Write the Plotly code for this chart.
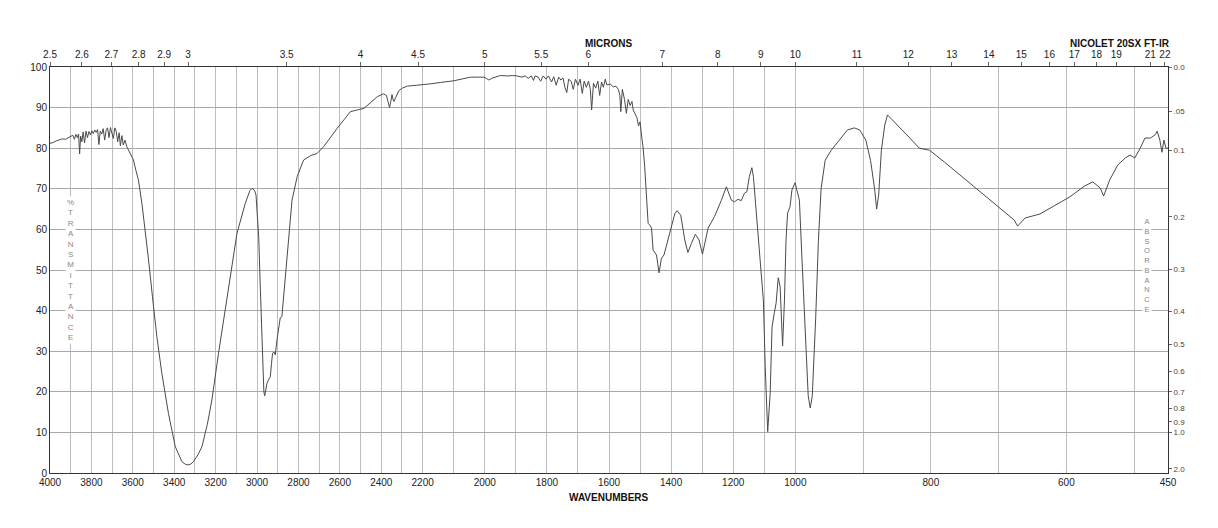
import numpy as np
import plotly.graph_objects as go

# ---------------- data ----------------
wavenumbers = [
    4000, 3985, 3970, 3955, 3940, 3925, 3910, 3898, 3890, 3882, 3875, 3868, 3862, 3857, 3852,
    3846, 3840, 3833, 3826, 3819, 3812, 3805, 3798, 3791, 3784, 3777, 3770, 3764, 3757, 3750,
    3743, 3736, 3729, 3722, 3715, 3708, 3701, 3694, 3687, 3680, 3673, 3666, 3660, 3653, 3646,
    3638, 3629, 3615, 3597, 3585, 3573, 3556, 3540, 3524, 3505, 3484, 3460, 3428, 3395, 3363,
    3345, 3334, 3320, 3307, 3285, 3266, 3240, 3218, 3186, 3145, 3097, 3057, 3035, 3024, 3012,
    3005, 2998, 2992, 2985, 2979, 2973, 2967, 2963, 2958, 2952, 2944, 2936, 2930, 2925, 2918,
    2912, 2903, 2896, 2888, 2880, 2872, 2863, 2847, 2831, 2806, 2775, 2740, 2710, 2678, 2645,
    2613, 2580, 2549, 2510, 2484, 2450, 2419, 2390, 2375, 2366, 2360, 2354, 2348, 2343, 2339,
    2330, 2315, 2298, 2274, 2230, 2206, 2170, 2142, 2100, 2070, 2046, 2020, 2003, 1995, 1987,
    1978, 1965, 1950, 1925, 1910, 1896, 1880, 1870, 1860, 1850, 1843, 1838, 1828, 1820, 1812,
    1803, 1795, 1785, 1778, 1770, 1762, 1755, 1748, 1742, 1736, 1730, 1722, 1715, 1708, 1700,
    1693, 1686, 1680, 1673, 1666, 1660, 1656, 1650, 1643, 1636, 1630, 1624, 1618, 1612, 1607,
    1596, 1586, 1578, 1570, 1565, 1562, 1557, 1550, 1544, 1538, 1532, 1526, 1522, 1515, 1510,
    1505, 1500, 1495, 1490, 1485, 1479, 1474, 1468, 1463, 1458, 1447, 1439, 1431, 1423, 1404,
    1388, 1381, 1369, 1356, 1346, 1335, 1322, 1310, 1299, 1281, 1260, 1238, 1222, 1206, 1196,
    1185, 1174, 1164, 1156, 1148, 1140, 1135, 1126, 1110, 1103, 1097, 1089, 1081, 1075, 1068,
    1062, 1055, 1049, 1041, 1035, 1030, 1025, 1017, 1011, 1001, 994, 990, 985, 981, 978,
    975, 970, 966, 962, 956, 947, 935, 923, 913, 905, 896, 889, 883, 880, 877,
    873, 868, 864, 857, 846, 831, 817, 802, 780, 757, 735, 713, 691, 677, 672,
    661, 639, 617, 595, 573, 561, 550, 545, 536, 524, 513, 506, 499, 491, 484,
    476, 469, 466, 462, 459, 456, 453, 450,
]
transmittance = [
    81.2, 81.4, 81.8, 82.0, 82.3, 82.2, 82.7, 82.9, 83.2, 82.2, 83.4, 82.6, 83.5, 78.6, 83.0,
    81.6, 84.0, 81.3, 84.2, 82.6, 84.1, 83.3, 84.3, 83.6, 84.5, 83.9, 84.6, 80.9, 84.2, 83.5,
    84.8, 82.0, 84.4, 85.0, 82.6, 85.1, 84.0, 82.4, 85.0, 84.1, 81.6, 83.8, 80.6, 83.1, 80.8,
    82.0, 80.4, 78.8, 77.1, 74.5, 72.2, 66.4, 59.9, 52.5, 43.4, 33.6, 24.6, 14.7, 6.5, 2.8,
    2.1, 2.0, 2.2, 2.8, 4.5, 6.5, 12.0, 18.0, 29.5, 43.4, 59.0, 66.4, 69.5, 70.1, 69.6,
    68.5, 64.0, 58.2, 47.0, 37.7, 24.6, 20.0, 19.0, 21.0, 22.1, 23.0, 23.7, 27.0, 29.5, 29.8,
    29.1, 33.0, 36.0, 38.2, 38.5, 43.0, 49.2, 59.0, 67.2, 73.0, 77.1, 78.2, 78.7, 80.4, 82.8,
    84.9, 87.0, 89.0, 89.5, 89.8, 91.3, 92.7, 93.4, 93.0, 91.2, 90.0, 91.5, 93.2, 92.0, 91.5,
    92.5, 94.2, 94.8, 95.3, 95.5, 95.6, 95.9, 96.2, 96.6, 97.1, 97.5, 97.5, 97.5, 97.2, 96.8,
    97.2, 97.6, 97.9, 97.8, 97.9, 97.8, 97.5, 97.8, 97.2, 97.8, 96.7, 97.8, 97.5, 96.5, 97.8,
    97.0, 97.8, 96.3, 97.6, 95.5, 97.5, 96.8, 97.3, 95.0, 93.7, 97.0, 96.5, 94.5, 97.0, 95.5,
    97.0, 93.5, 96.5, 95.0, 96.5, 94.5, 89.4, 96.0, 94.8, 96.5, 93.0, 96.3, 95.0, 97.0, 95.6,
    95.8, 95.1, 95.3, 94.5, 93.0, 89.0, 94.5, 92.0, 88.6, 92.0, 90.5, 91.5, 89.4, 88.0, 87.5,
    85.5, 86.5, 83.0, 80.0, 75.4, 67.2, 61.5, 61.0, 60.3, 54.9, 53.7, 49.3, 52.9, 53.7, 59.0,
    63.9, 64.6, 63.5, 57.4, 54.3, 56.5, 58.8, 57.4, 53.9, 60.3, 63.2, 67.2, 70.5, 67.2, 66.8,
    67.4, 67.1, 68.9, 69.3, 73.0, 75.2, 73.0, 64.8, 50.8, 42.6, 26.2, 10.2, 19.6, 36.0, 39.3,
    41.8, 48.1, 45.9, 31.3, 42.6, 57.4, 64.0, 65.6, 69.7, 71.5, 67.2, 52.0, 33.0, 19.0, 16.0,
    19.0, 38.0, 57.0, 70.0, 77.0, 79.5, 82.0, 84.5, 85.0, 84.5, 82.0, 77.0, 70.0, 65.0, 68.5,
    79.5, 85.7, 88.2, 87.0, 85.0, 82.5, 80.0, 79.5, 76.6, 73.4, 70.2, 67.2, 64.3, 62.3, 60.8,
    62.8, 63.8, 66.0, 68.0, 70.7, 71.7, 70.2, 68.2, 72.2, 75.9, 77.6, 78.3, 77.6, 80.0, 82.5,
    82.5, 83.3, 84.2, 82.0, 79.0, 82.0, 80.0, 80.0,
]

bottom_tick_labels = ["4000", "3800", "3600", "3400", "3200", "3000", "2800", "2600", "2400",
                      "2200", "2000", "1800", "1600", "1400", "1200", "1000", "800", "600", "450"]
micron_labels = ["2.5", "2.6", "2.7", "2.8", "2.9", "3", "3.5", "4", "4.5", "5", "5.5", "6", "7",
                 "8", "9", "10", "11", "12", "13", "14", "15", "16", "17", "18", "19", "21", "22"]
percent_labels = ["0", "10", "20", "30", "40", "50", "60", "70", "80", "90", "100"]
absorbance_labels = ["0.0", ".05", "0.1", "0.2", "0.3", "0.4", "0.5", "0.6", "0.7", "0.8", "0.9", "1.0", "2.0"]

# ---------------- scale: three equal-width panels 4000-2200, 2200-1000, 1000-450 ----------------
BREAK_WN = [4000, 2200, 1000, 450]


def wn_to_u(w):
    w = np.asarray(w, dtype=float)
    return np.interp(-w, [-b for b in BREAK_WN], [0, 1, 2, 3])


grid_wn = [4000 - 100 * i for i in range(36)] + [450]          # every 100 cm-1 plus end
label_set = {int(t) for t in bottom_tick_labels}
bottom_tickvals = wn_to_u(grid_wn)
bottom_ticktext = [str(w) if w in label_set else "" for w in grid_wn]

micron_vals = wn_to_u([10000.0 / float(m) for m in micron_labels])
abs_vals = [100 * 10 ** (-float(a)) for a in absorbance_labels]

FONT = "Liberation Sans, Arial, Helvetica, sans-serif"
AXC = "#333333"

fig = go.Figure()
fig.add_trace(go.Scatter(
    x=wn_to_u(wavenumbers), y=transmittance, mode="lines",
    line=dict(color="#4a4a4a", width=1), hoverinfo="skip", showlegend=False,
))
# invisible trace to activate secondary axes
fig.add_trace(go.Scatter(x=[0, 3], y=[0, 100], xaxis="x2", yaxis="y2", mode="markers",
                         marker=dict(opacity=0), showlegend=False, hoverinfo="skip"))

fig.update_layout(
    width=1218, height=528,
    margin=dict(l=50, r=50, t=67, b=55),
    paper_bgcolor="white", plot_bgcolor="white",
    font=dict(family=FONT, size=10, color="#222"),
    xaxis=dict(range=[0, 3], tickmode="array", tickvals=bottom_tickvals, ticktext=bottom_ticktext,
               showgrid=True, gridcolor="#bdbdbd", gridwidth=1, zeroline=False,
               showline=True, linecolor=AXC, linewidth=1, ticks="", fixedrange=True,
               tickfont=dict(size=10, color="#222")),
    xaxis2=dict(range=[0, 3], overlaying="x", side="top", tickmode="array",
                tickvals=micron_vals, ticktext=micron_labels, showgrid=False, zeroline=False,
                showline=True, linecolor=AXC, linewidth=1, ticks="outside", ticklen=4,
                tickcolor="#666", tickfont=dict(size=10, color="#222")),
    yaxis=dict(range=[0, 100], tickmode="array", tickvals=[0, 10, 20, 30, 40, 50, 60, 70, 80, 90, 100],
               ticktext=percent_labels, showgrid=True, gridcolor="#a8a8a8", gridwidth=1,
               zeroline=False, showline=True, linecolor=AXC, linewidth=1, ticks="",
               tickfont=dict(size=10, color="#222")),
    yaxis2=dict(range=[0, 100], overlaying="y", side="right", tickmode="array",
                tickvals=abs_vals, ticktext=absorbance_labels, showgrid=False, zeroline=False,
                showline=True, linecolor=AXC, linewidth=1, ticks="outside", ticklen=3,
                tickcolor="#666", tickfont=dict(size=8, color="#444")),
)

annotations = [
    dict(text="<b>MICRONS</b>", xref="paper", yref="paper", x=0.5, y=1, xanchor="center",
         yanchor="bottom", yshift=16, showarrow=False, font=dict(size=10, color="#111")),
    dict(text="<b>NICOLET 20SX FT-IR</b>", xref="paper", yref="paper", x=(1120 - 50) / 1118, y=1,
         xanchor="center", yanchor="bottom", yshift=16, showarrow=False, font=dict(size=10, color="#111")),
    dict(text="<b>WAVENUMBERS</b>", xref="paper", yref="paper", x=0.5, y=0, xanchor="center",
         yanchor="top", yshift=-17, showarrow=False, font=dict(size=10, color="#111")),
    dict(text="<br>".join("%TRANSMITTANCE"), xref="x", yref="y", x=float(wn_to_u(3900)), y=50,
         xanchor="center", yanchor="middle", showarrow=False, bgcolor="white", borderpad=1,
         font=dict(size=8, color="#888")),
    dict(text="<br>".join("ABSORBANCE"), xref="x", yref="y", x=float(wn_to_u(481)), y=51,
         xanchor="center", yanchor="middle", showarrow=False, bgcolor="white", borderpad=1,
         font=dict(size=7.5, color="#888")),
]
fig.update_layout(annotations=annotations)

fig.write_html("out.html")
